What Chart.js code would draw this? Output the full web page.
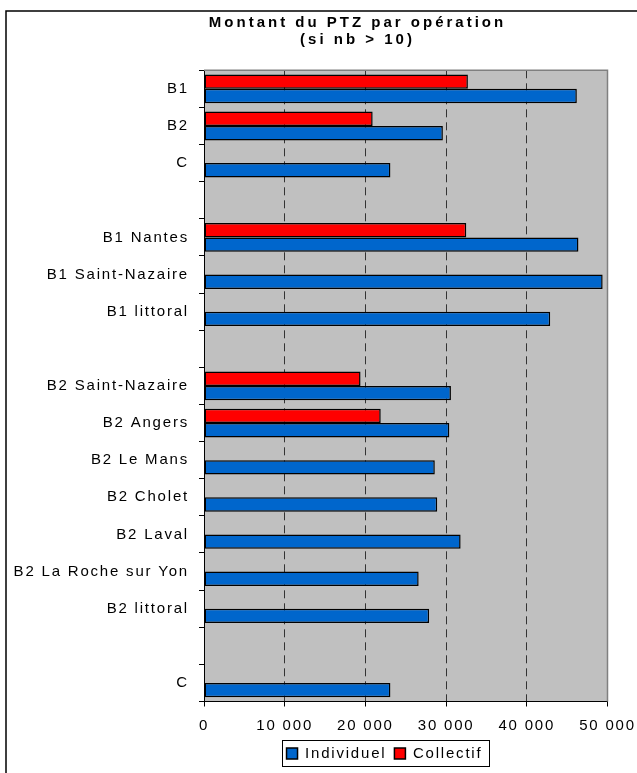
<!DOCTYPE html>
<html>
<head>
<meta charset="utf-8">
<script src="https://cdn.jsdelivr.net/npm/chart.js@4.4.1/dist/chart.umd.min.js"></script>
<style>
  html, body { margin: 0; padding: 0; background: #fff; }
  #wrap { width: 637px; height: 773px; position: relative; }
</style>
</head>
<body>
<div id="wrap"><canvas id="ptz"></canvas></div>
<script>
// categories, top to bottom (empty strings are the spacer rows)
const categories = ['B1', 'B2', 'C', '', 'B1 Nantes', 'B1 Saint-Nazaire', 'B1 littoral', '',
  'B2 Saint-Nazaire', 'B2 Angers', 'B2 Le Mans', 'B2 Cholet', 'B2 Laval',
  'B2 La Roche sur Yon', 'B2 littoral', '', 'C'];
const individuel = [46200, 29600, 23100, null, 46400, 49400, 42900, null,
  30600, 30400, 28600, 28900, 31800, 26600, 27900, null, 23100];
const collectif = [32700, 20900, null, null, 32500, null, null, null,
  19400, 21900, null, null, null, null, null, null, null];
const xTicks = [0, 10000, 20000, 30000, 40000, 50000];

const FONT = 'Arial, "Liberation Sans", sans-serif';

function fmt(v) {
  return String(v).replace(/\B(?=(\d{3})+$)/g, ' ');
}

// excel-ish look: frame, grey plot area, legend box, wide letter spacing
const excelLook = {
  id: 'excelLook',
  beforeUpdate(chart) { chart.ctx.letterSpacing = '1.8px'; },
  beforeLayout(chart) { chart.ctx.letterSpacing = '1.8px'; },
  afterLayout(chart) {
    // the original chart is wider than the picture, so title and legend sit right of centre
    const lg = chart.legend;
    if (lg) { lg.left = 132; lg.right = 637; }
    const tb = chart.titleBlock;
    if (tb) { tb.left = 78; tb.right = 637; }
  },
  beforeDraw(chart) {
    const ctx = chart.ctx;
    const a = chart.chartArea;
    ctx.letterSpacing = '1.8px';
    const tb = chart.titleBlock;
    if (tb && !tb._patched) {
      const orig = tb.draw;
      tb.draw = function () {
        const prev = this.ctx.letterSpacing;
        this.ctx.letterSpacing = '3px';
        orig.apply(this, arguments);
        this.ctx.letterSpacing = prev;
      };
      tb._patched = true;
    }
    ctx.save();
    ctx.fillStyle = '#fff';
    ctx.fillRect(0, 0, chart.width, chart.height);
    ctx.strokeStyle = '#000';
    ctx.lineWidth = 1.5;
    ctx.beginPath();
    ctx.moveTo(6, chart.height);
    ctx.lineTo(6, 11);
    ctx.lineTo(chart.width, 11);
    ctx.stroke();
    ctx.fillStyle = '#c0c0c0';
    ctx.fillRect(a.left, a.top, a.right - a.left, a.bottom - a.top);
    ctx.restore();
  },
  afterDraw(chart) {
    const ctx = chart.ctx;
    const a = chart.chartArea;
    ctx.save();
    ctx.strokeStyle = '#808080';
    ctx.lineWidth = 1.5;
    ctx.beginPath();
    ctx.moveTo(a.left, a.top);
    ctx.lineTo(a.right, a.top);
    ctx.lineTo(a.right, a.bottom);
    ctx.stroke();
    const lg = chart.legend;
    if (lg && lg.legendHitBoxes && lg.legendHitBoxes.length) {
      const hb = lg.legendHitBoxes;
      const l = Math.min(...hb.map(h => h.left)) - 5;
      const r = Math.max(...hb.map(h => h.left + h.width)) + 6;
      const t = hb[0].top - 6;
      const b = hb[0].top + hb[0].height + 5;
      ctx.strokeStyle = '#000';
      ctx.lineWidth = 1;
      ctx.strokeRect(Math.round(l) + 0.5, Math.round(t) + 0.5, Math.round(r - l), Math.round(b - t));
    }
    ctx.restore();
  }
};

new Chart(document.getElementById('ptz'), {
  type: 'bar',
  data: {
    labels: categories,
    datasets: [
      {
        label: 'Collectif',
        data: collectif,
        backgroundColor: '#ff0000',
        borderColor: '#000',
        borderWidth: 1.5,
        borderSkipped: false,
        barPercentage: 1,
        categoryPercentage: 0.775
      },
      {
        label: 'Individuel',
        data: individuel,
        backgroundColor: '#0066cc',
        borderColor: '#000',
        borderWidth: 1.5,
        borderSkipped: false,
        barPercentage: 1,
        categoryPercentage: 0.775
      }
    ]
  },
  options: {
    indexAxis: 'y',
    responsive: true,
    maintainAspectRatio: false,
    animation: false,
    layout: { padding: { left: 0, right: 0, top: 0, bottom: 2 } },
    plugins: {
      title: {
        display: true,
        text: ['Montant du PTZ par opération', '(si nb > 10)'],
        color: '#000',
        font: { family: FONT, size: 15, weight: 'bold', lineHeight: 1.11 },
        padding: { top: 15, bottom: 22 }
      },
      legend: {
        position: 'bottom',
        reverse: true,
        labels: {
          color: '#000',
          font: { family: FONT, size: 15 },
          boxWidth: 11,
          boxHeight: 11,
          padding: 8
        }
      },
      tooltip: { enabled: false }
    },
    scales: {
      x: {
        type: 'linear',
        min: 0,
        max: 50000,
        afterBuildTicks: s => { s.ticks = xTicks.map(v => ({ value: v })); },
        afterFit: s => { s.height = 36.5; s.paddingRight = 29.5; },
        grid: {
          color: c => (c.tick && (c.tick.value === 0 || c.tick.value === 50000)) ? 'rgba(0,0,0,0)' : '#333',
          lineWidth: 1,
          tickColor: '#000',
          tickLength: 5
        },
        border: { color: '#000', width: 1, dash: [8, 5] },
        ticks: {
          color: '#000',
          font: { family: FONT, size: 15 },
          padding: 10,
          maxRotation: 0,
          callback: v => fmt(v)
        }
      },
      y: {
        type: 'category',
        afterFit: s => { s.width = 204; },
        grid: {
          offset: true,
          drawOnChartArea: false,
          tickColor: '#000',
          tickLength: 5
        },
        border: { color: '#000', width: 1 },
        ticks: {
          color: '#000',
          font: { family: FONT, size: 15 },
          padding: 10,
          autoSkip: false
        }
      }
    }
  },
  plugins: [excelLook]
});
</script>
</body>
</html>
